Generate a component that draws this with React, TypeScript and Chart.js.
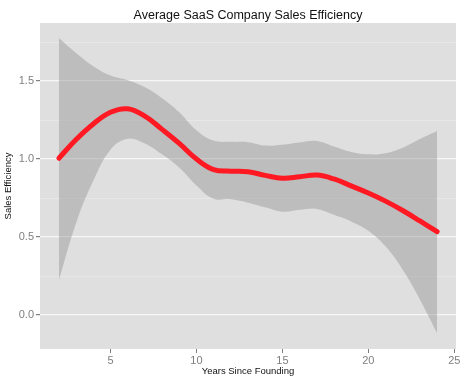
import React, { useEffect, useRef } from 'react';
import { Chart, registerables } from 'chart.js';

Chart.register(...registerables);

const chartTitle = 'Average SaaS Company Sales Efficiency';
const xAxisTitle = 'Years Since Founding';
const yAxisTitle = 'Sales Efficiency';

const years = [2, 3, 4, 5, 6, 7, 8, 9, 10, 11, 12, 13, 14, 15, 16, 17, 18, 19, 20, 21, 22, 23, 24];
const efficiency = [1.005, 1.125, 1.225, 1.3, 1.322, 1.275, 1.19, 1.1, 1.0, 0.932, 0.922, 0.918, 0.895, 0.877, 0.886, 0.897, 0.872, 0.828, 0.782, 0.73, 0.67, 0.603, 0.534];
const upperBand = [1.775, 1.68, 1.595, 1.535, 1.505, 1.46, 1.39, 1.3, 1.185, 1.118, 1.11, 1.108, 1.086, 1.092, 1.106, 1.115, 1.08, 1.045, 1.03, 1.037, 1.072, 1.128, 1.18];
const lowerBand = [0.224, 0.59, 0.86, 1.06, 1.13, 1.1, 1.03, 0.945, 0.83, 0.745, 0.742, 0.72, 0.69, 0.662, 0.674, 0.68, 0.642, 0.6, 0.54, 0.44, 0.29, 0.1, -0.117];

const xTickValues = [5, 10, 15, 20, 25];
const yTickValues = [0, 0.25, 0.5, 0.75, 1, 1.25, 1.5, 1.75];
const yMajorTicks = [0, 0.5, 1, 1.5];

const isMajorY = (v: number) => yMajorTicks.some((m) => Math.abs(m - v) < 1e-9);

const panelBackground = {
  id: 'panelBackground',
  beforeDraw(chart: any) {
    const { ctx, chartArea } = chart;
    if (!chartArea) return;
    ctx.save();
    ctx.fillStyle = '#DFDFDF';
    ctx.fillRect(chartArea.left, chartArea.top, chartArea.right - chartArea.left, chartArea.bottom - chartArea.top);
    ctx.restore();
  },
};

const FONT = "'Liberation Sans', Arial, Helvetica, sans-serif";

export default function App() {
  const canvasRef = useRef<HTMLCanvasElement | null>(null);

  useEffect(() => {
    const canvas = canvasRef.current;
    if (!canvas) return;
    const chart = new Chart(canvas, {
      type: 'line',
      data: {
        datasets: [
          {
            label: 'fit',
            data: years.map((x, i) => ({ x, y: efficiency[i] })),
            borderColor: 'rgb(255,25,35)',
            borderWidth: 5,
            borderCapStyle: 'round',
            borderJoinStyle: 'round',
            pointRadius: 0,
            tension: 0.4,
            fill: false,
          },
          {
            label: 'upper',
            data: years.map((x, i) => ({ x, y: upperBand[i] })),
            borderWidth: 0,
            borderColor: 'rgba(0,0,0,0)',
            backgroundColor: 'rgba(150,150,150,0.47)',
            pointRadius: 0,
            tension: 0.4,
            fill: '+1',
          },
          {
            label: 'lower',
            data: years.map((x, i) => ({ x, y: lowerBand[i] })),
            borderWidth: 0,
            borderColor: 'rgba(0,0,0,0)',
            pointRadius: 0,
            tension: 0.4,
            fill: false,
          },
        ],
      },
      options: {
        responsive: false,
        animation: false,
        events: [],
        layout: { padding: { left: 0, right: 11, top: 0, bottom: 0 } },
        plugins: {
          legend: { display: false },
          tooltip: { enabled: false },
          title: {
            display: true,
            text: chartTitle,
            fullSize: false,
            color: '#111',
            font: { family: FONT, size: 12.5, weight: 'normal' },
            padding: { top: 8, bottom: 0 },
          },
        },
        scales: {
          x: {
            type: 'linear',
            min: 0.9,
            max: 25.1,
            afterBuildTicks: (scale: any) => {
              scale.ticks = xTickValues.map((v) => ({ value: v }));
            },
            afterFit: (scale: any) => {
              scale.height = 34;
            },
            border: { display: false },
            grid: {
              drawOnChartArea: false,
              drawTicks: true,
              tickLength: 4,
              tickColor: '#7F7F7F',
            },
            ticks: {
              color: '#7F7F7F',
              padding: 1,
              maxRotation: 0,
              autoSkip: false,
              font: { family: FONT, size: 11 },
              callback: (v: any) => String(v),
            },
            title: {
              display: true,
              text: xAxisTitle,
              color: '#111',
              font: { family: FONT, size: 9.5 },
              padding: { top: 0, bottom: 6 },
            },
          },
          y: {
            type: 'linear',
            min: -0.218,
            max: 1.872,
            afterBuildTicks: (scale: any) => {
              scale.ticks = yTickValues.map((v) => ({ value: v }));
            },
            afterFit: (scale: any) => {
              scale.width = 40;
            },
            border: { display: false },
            grid: {
              drawOnChartArea: true,
              drawTicks: true,
              tickLength: 4,
              color: (ctx: any) => (ctx.tick && isMajorY(ctx.tick.value) ? '#F7F7F7' : '#EBEBEB'),
              lineWidth: (ctx: any) => (ctx.tick && isMajorY(ctx.tick.value) ? 1.2 : 0.7),
              tickColor: (ctx: any) => (ctx.tick && isMajorY(ctx.tick.value) ? '#7F7F7F' : 'rgba(0,0,0,0)'),
            },
            ticks: {
              color: '#7F7F7F',
              padding: 2,
              autoSkip: false,
              font: { family: FONT, size: 11 },
              callback: (v: any) => (isMajorY(Number(v)) ? Number(v).toFixed(1) : ''),
            },
            title: {
              display: true,
              text: yAxisTitle,
              color: '#111',
              font: { family: FONT, size: 9.5 },
              padding: { top: 2.5, bottom: 0 },
            },
          },
        },
      },
      plugins: [panelBackground],
    } as any);
    return () => chart.destroy();
  }, []);

  return (
    <div style={{ position: 'absolute', left: 0, top: 0, width: 467, height: 383, background: '#fff' }}>
      <canvas ref={canvasRef} width={467} height={383} style={{ display: 'block', width: 467, height: 383 }} />
    </div>
  );
}
